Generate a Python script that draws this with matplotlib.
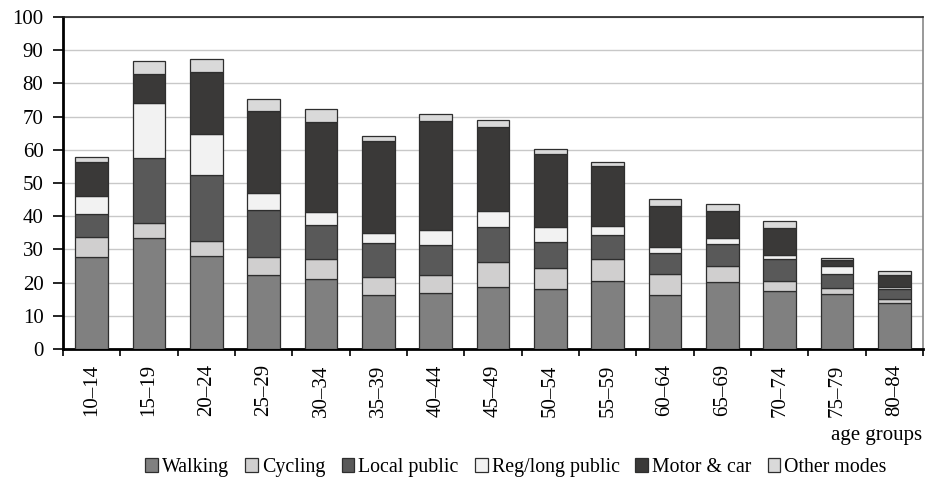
import matplotlib.pyplot as plt
import numpy as np

age_groups = ["10–14", "15–19", "20–24", "25–29", "30–34", "35–39", "40–44",
              "45–49", "50–54", "55–59", "60–64", "65–69", "70–74", "75–79", "80–84"]

walking = [27.8, 33.3, 27.9, 22.2, 21.0, 16.3, 16.8, 18.8, 18.0, 20.5, 16.2, 20.1, 17.5, 16.6, 13.8]
cycling = [6.0, 4.7, 4.7, 5.6, 6.2, 5.5, 5.6, 7.3, 6.3, 6.6, 6.5, 4.8, 2.9, 1.7, 1.1]
local_public = [6.9, 19.5, 19.8, 14.1, 10.1, 10.0, 9.0, 10.7, 7.9, 7.2, 6.2, 6.6, 6.7, 4.3, 3.2]
reg_long_public = [5.4, 16.5, 12.4, 5.0, 4.1, 3.0, 4.3, 4.9, 4.4, 2.8, 1.8, 1.8, 1.2, 2.5, 0.7]
motor_car = [10.1, 8.8, 18.6, 24.8, 26.9, 27.8, 32.9, 25.1, 22.0, 18.1, 12.4, 8.3, 8.1, 1.7, 3.6]
other_modes = [1.6, 3.9, 4.1, 3.5, 3.9, 1.5, 2.1, 2.1, 1.7, 1.2, 2.0, 2.0, 2.1, 0.5, 1.0]

series = [
    ("Walking", walking, "#808080"),
    ("Cycling", cycling, "#d0cfcf"),
    ("Local public", local_public, "#595959"),
    ("Reg/long public", reg_long_public, "#f2f2f2"),
    ("Motor & car", motor_car, "#3a3938"),
    ("Other modes", other_modes, "#d9d9d9"),
]

plt.rcParams["font.family"] = ["Liberation Serif", "DejaVu Serif"]

fig = plt.figure(figsize=(9.25, 4.86), dpi=100)
ax = fig.add_axes([0.068, 0.282, 0.93, 0.683])

x = np.arange(len(age_groups))
bottom = np.zeros(len(age_groups))
for name, vals, color in series:
    ax.bar(x, vals, width=0.57, bottom=bottom, color=color, edgecolor="#2e2e2e",
           linewidth=0.9, label=name, zorder=3)
    bottom += np.array(vals)

ax.set_xlim(-0.5, len(age_groups) - 0.5)
ax.set_ylim(0, 100)
ax.set_yticks(range(0, 101, 10))
ax.tick_params(axis="y", labelsize=15, length=7, width=1.2, direction="out", pad=7)
ax.set_xticks(x)
ax.set_xticklabels(age_groups, rotation=90, fontsize=15)
ax.tick_params(axis="x", which="major", length=0, pad=11)
ax.set_xticks(np.arange(-0.5, len(age_groups), 1), minor=True)
ax.tick_params(axis="x", which="minor", length=5, width=1.2, direction="out")

ax.grid(axis="y", color="#c8c8c8", linewidth=1, zorder=0)
for side in ["left", "bottom"]:
    ax.spines[side].set_linewidth(2)
    ax.spines[side].set_color("black")
ax.spines["top"].set_linewidth(1.2)
ax.spines["top"].set_color("#222222")
ax.spines["right"].set_color("#888888")
ax.spines["right"].set_linewidth(1.2)

fig.text(0.997, 0.103, "age groups", ha="right", va="center", fontsize=15)
fig.legend(loc="center", bbox_to_anchor=(0.558, 0.038), ncol=6, frameon=False,
           fontsize=14.3, handlelength=0.65, handleheight=0.65, handletextpad=0.2,
           columnspacing=0.8, borderaxespad=0)

fig.savefig("out.png", dpi=100)
